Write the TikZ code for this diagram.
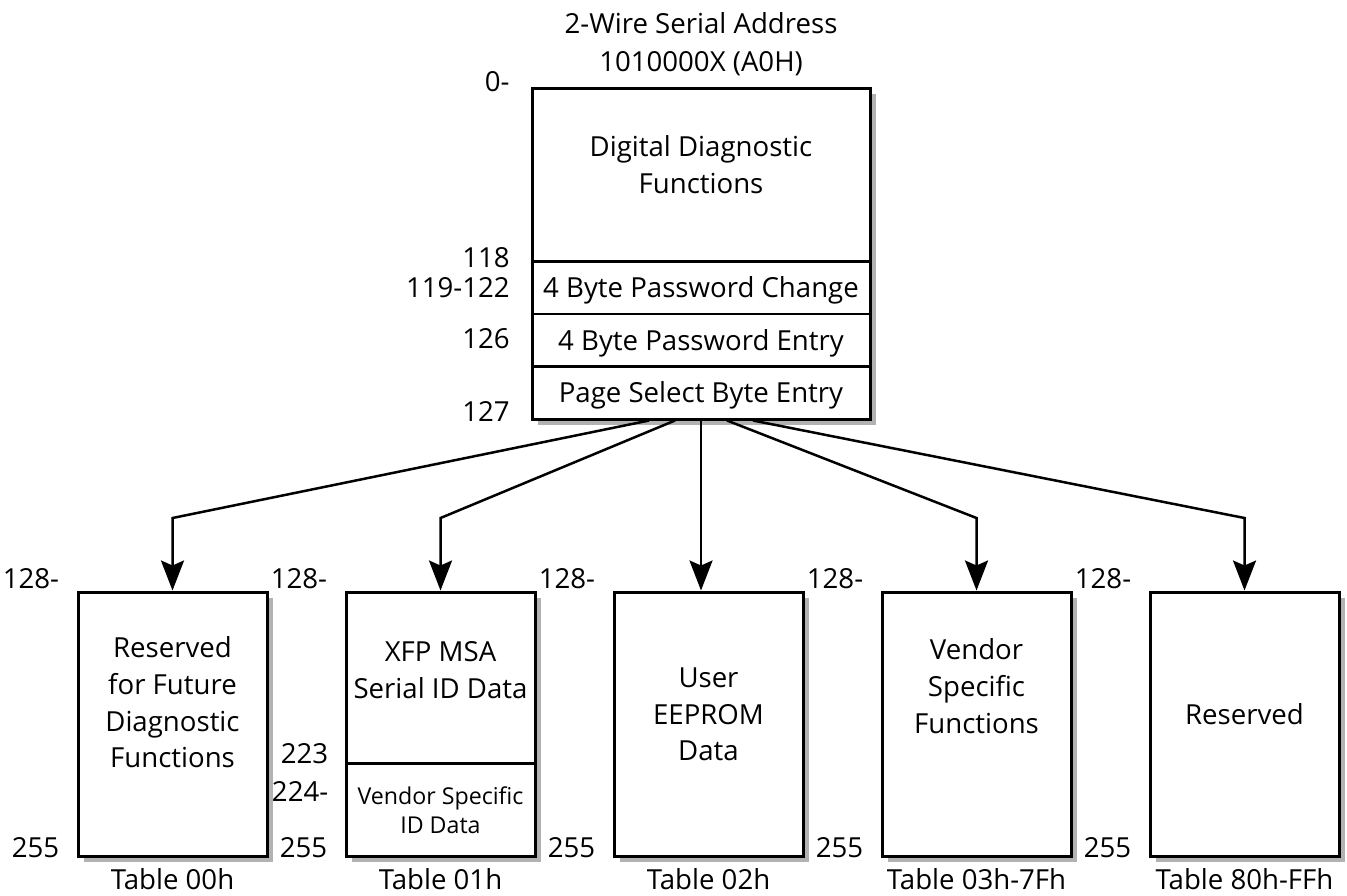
\documentclass[tikz,border=0pt]{standalone}
\usepackage{fontspec}
\setmainfont{Open Sans}
\usetikzlibrary{arrows.meta}
\usetikzlibrary{shadows}
\usetikzlibrary{positioning}
\usetikzlibrary{calc}
\tikzset{
  % Arrow tips and common styles
  >={Stealth[length=15pt,width=11.5pt,inset=2.5pt]},
  line/.style={draw, ->, line width=1.25pt},
  memblock/.style={draw, rectangle, line width=1.5pt, inner sep=0pt, fill=white,
    drop shadow={shadow xshift=3pt, shadow yshift=-3pt, fill=black!30, opacity=1}}
}

\begin{document}
\begin{tikzpicture}[x=0.5pt, y=-0.5pt, node distance=134pt, font=\fontsize{13.8}{18.3}\selectfont]
    % Define styles
    \tikzstyle{label} = [inner sep=0pt, align=center, anchor=north]
    \tikzstyle{addr} = [inner sep=0pt, anchor=base east]
    \tikzstyle{row} = [minimum width=169pt, minimum height=26pt, inner sep=0pt, text height=9.8pt, text depth=0pt]
    \tikzstyle{table} = [memblock, minimum width=94.5pt, minimum height=132pt]
    \tikzstyle{divider} = [draw, line width=1.25pt]

    \useasboundingbox (0,0) rectangle (1347,895);

    % Lower memory (A0h)
    \node [label] (title) at (701,12) {2-Wire Serial Address\\[1pt]1010000X (A0H)};
    \node [memblock, minimum width=169pt, minimum height=165.5pt] (ddf) at (701,253.5) {};
    \node [label] (ddftext) at ($(ddf.north)+(0,49)$) {Digital Diagnostic\\Functions};
    \node [row] (pwc) at (701,288) {4 Byte Password Change};
    \node [row] (pwe) at (701,340.5) {4 Byte Password Entry};
    \node [row] (psb) at (701,393) {Page Select Byte Entry};
    \path [divider] (pwc.north west) -- (pwc.north east);
    \path [divider] (pwe.north west) -- (pwe.north east);
    \path [divider] (psb.north west) -- (psb.north east);

    \node [addr] (a0) at (510,91) {0-};
    \node [addr] (a118) at (510,267) {118};
    \node [addr] (a119) at (510,297) {119-122};
    \node [addr] (a126) at (510,348) {126};
    \node [addr] (a127) at (510,421) {127};

    % Upper memory tables
    \node [table] (t00) at (172.5,724) {};
    \node [table, right of=t00] (t01) {};
    \node [table, right of=t01] (t02) {};
    \node [table, right of=t02] (t03) {};
    \node [table, right of=t03] (t80) {};

    \node [label] (t00text) at ($(t00.north)+(0,46)$) {Reserved\\for Future\\Diagnostic\\Functions};
    \node [label] (t01text) at ($(t01.north)+(0,51)$) {XFP MSA\\Serial ID Data};
    \node [minimum width=94.5pt, minimum height=46.5pt, inner sep=0pt, anchor=south, align=center,
      font=\fontsize{11.6}{14.5}\selectfont] (vsid) at (t01.south) {Vendor Specific\\ID Data};
    \path [divider] (vsid.north west) -- (vsid.north east);
    \node [label] (t02text) at ($(t02.north)+(0,77)$) {User\\EEPROM\\Data};
    \node [label] (t03text) at ($(t03.north)+(0,48)$) {Vendor\\Specific\\Functions};
    \node [label] (t80text) at ($(t80.north)+(0,113)$) {Reserved};

    \node [anchor=base] (c00) at ($(t00.south)+(0,32)$) {Table 00h};
    \node [anchor=base] (c01) at ($(t01.south)+(0,32)$) {Table 01h};
    \node [anchor=base] (c02) at ($(t02.south)+(0,32)$) {Table 02h};
    \node [anchor=base] (c03) at ($(t03.south)+(0,32)$) {Table 03h-7Fh};
    \node [anchor=base] (c80) at ($(t80.south)+(0,32)$) {Table 80h-FFh};

    \node [addr] (b00) at ($(t00.north west)+(-17,-2)$) {128-};
    \node [addr] (e00) at ($(t00.south west)+(-17,0)$) {255};
    \node [addr] (b01) at ($(t01.north west)+(-17,-2)$) {128-};
    \node [addr] (m01) at ($(vsid.north west)+(-17,0)$) {223};
    \node [addr] (n01) at ($(vsid.north west)+(-17,38)$) {224-};
    \node [addr] (e01) at ($(t01.south west)+(-17,0)$) {255};
    \node [addr] (b02) at ($(t02.north west)+(-17,-2)$) {128-};
    \node [addr] (e02) at ($(t02.south west)+(-17,0)$) {255};
    \node [addr] (b03) at ($(t03.north west)+(-17,-2)$) {128-};
    \node [addr] (e03) at ($(t03.south west)+(-17,0)$) {255};
    \node [addr] (b80) at ($(t80.north west)+(-17,-2)$) {128-};
    \node [addr] (e80) at ($(t80.south west)+(-17,0)$) {255};

    % Draw edges
    \coordinate (fork) at (0,518);
    \path [line] ([xshift=-26pt]ddf.south) -- (t00.north |- fork) -- (t00.north);
    \path [line] ([xshift=-13pt]ddf.south) -- (t01.north |- fork) -- (t01.north);
    \path [line] (ddf.south) -- (ddf.south |- t02.north);
    \path [line] ([xshift=13pt]ddf.south) -- (t03.north |- fork) -- (t03.north);
    \path [line] ([xshift=26pt]ddf.south) -- (t80.north |- fork) -- (t80.north);

\end{tikzpicture}
\end{document}
